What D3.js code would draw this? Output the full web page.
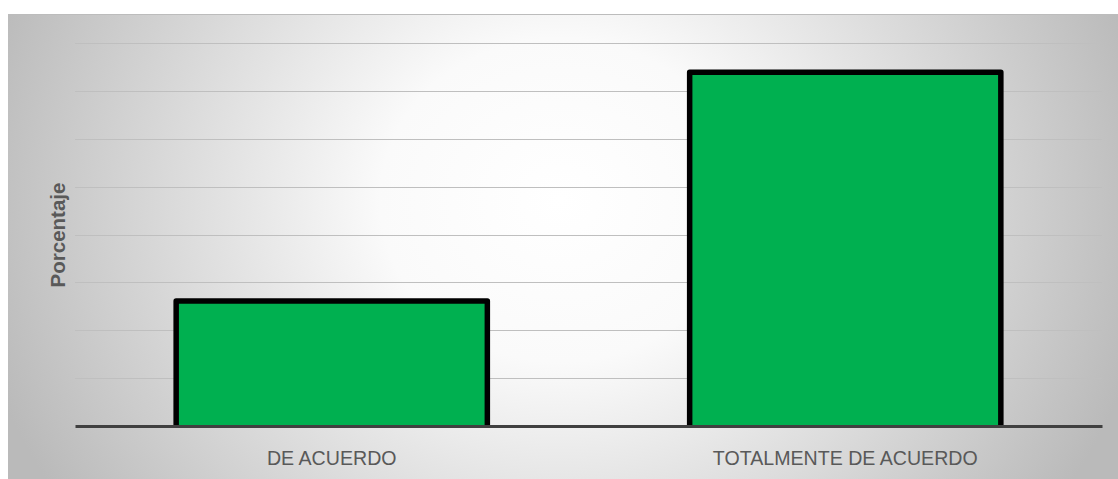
<!DOCTYPE html>
<html><head><meta charset="utf-8">
<script src="https://cdn.jsdelivr.net/npm/d3@7"></script>
<style>html,body{margin:0;padding:0;background:#fff;}svg{display:block;}</style>
</head><body>
<svg id="chart" width="1118" height="479"></svg>
<script>
const categories = ["DE ACUERDO", "TOTALMENTE DE ACUERDO"];
const values = [26.1, 73.9];
const yTicks = [0, 10, 20, 30, 40, 50, 60, 70, 80];
const yTitle = "Porcentaje";

(function () {
const W = 1118, H = 479;
const svg = d3.select("#chart");
const defs = svg.append("defs");
const grad = defs.append("radialGradient").attr("id", "bg")
  .attr("gradientUnits", "userSpaceOnUse")
  .attr("cx", 560).attr("cy", 200).attr("r", 600)
  .attr("gradientTransform", "translate(560,200) scale(1,0.9) translate(-560,-200)");
grad.append("stop").attr("offset", 0).attr("stop-color", "#ffffff");
grad.append("stop").attr("offset", 0.3).attr("stop-color", "#fafafa");
grad.append("stop").attr("offset", 1).attr("stop-color", "#bababa");

svg.append("rect").attr("x", 8).attr("y", 14).attr("width", W - 8).attr("height", H - 14)
  .attr("fill", "url(#bg)");
svg.append("line").attr("x1", 8).attr("x2", W).attr("y1", 14.5).attr("y2", 14.5)
  .attr("stroke", "#bcbcbc").attr("stroke-width", 1);

const pLeft = 75, pRight = 1102, pTop = 43, pBottom = 426;
const x = d3.scaleBand().domain(categories).range([pLeft, pRight]).paddingInner(0.394).paddingOuter(0.197);
const y = d3.scaleLinear().domain([0, 80]).range([pBottom, pTop]);

svg.append("g").selectAll("line").data(yTicks.filter(t => t > 0)).join("line")
  .attr("x1", pLeft).attr("x2", pRight)
  .attr("y1", d => Math.round(y(d)) + 0.5).attr("y2", d => Math.round(y(d)) + 0.5)
  .attr("stroke", "#bfbfbf").attr("stroke-width", 1.2);

defs.append("clipPath").attr("id", "clip").append("rect")
  .attr("x", 0).attr("y", 0).attr("width", W).attr("height", pBottom);

svg.append("g").attr("clip-path", "url(#clip)").selectAll("rect").data(values).join("rect")
  .attr("x", (d, i) => x(categories[i]))
  .attr("width", x.bandwidth())
  .attr("y", d => y(d))
  .attr("height", d => pBottom - y(d) + 5)
  .attr("fill", "#00b050")
  .attr("stroke", "#000").attr("stroke-width", 5.5).attr("stroke-linejoin", "round");

const xAxis = d3.axisBottom(x).tickSize(0).tickPadding(0);
const ax = svg.append("g").attr("transform", `translate(0,${pBottom})`).call(xAxis);
ax.select(".domain").attr("stroke", "#404040").attr("stroke-width", 3);
ax.selectAll("text")
  .attr("y", 39).attr("dy", 0)
  .attr("font-family", "'Liberation Sans', Arial, sans-serif")
  .attr("font-size", "19.6px").attr("fill", "#595959");

svg.append("text")
  .attr("transform", `translate(64.5,235) rotate(-90)`)
  .attr("text-anchor", "middle")
  .attr("font-family", "'Liberation Sans', Arial, sans-serif")
  .attr("font-weight", "bold").attr("font-size", "20.5px").attr("fill", "#595959")
  .text(yTitle);
})();
</script>
</body></html>
